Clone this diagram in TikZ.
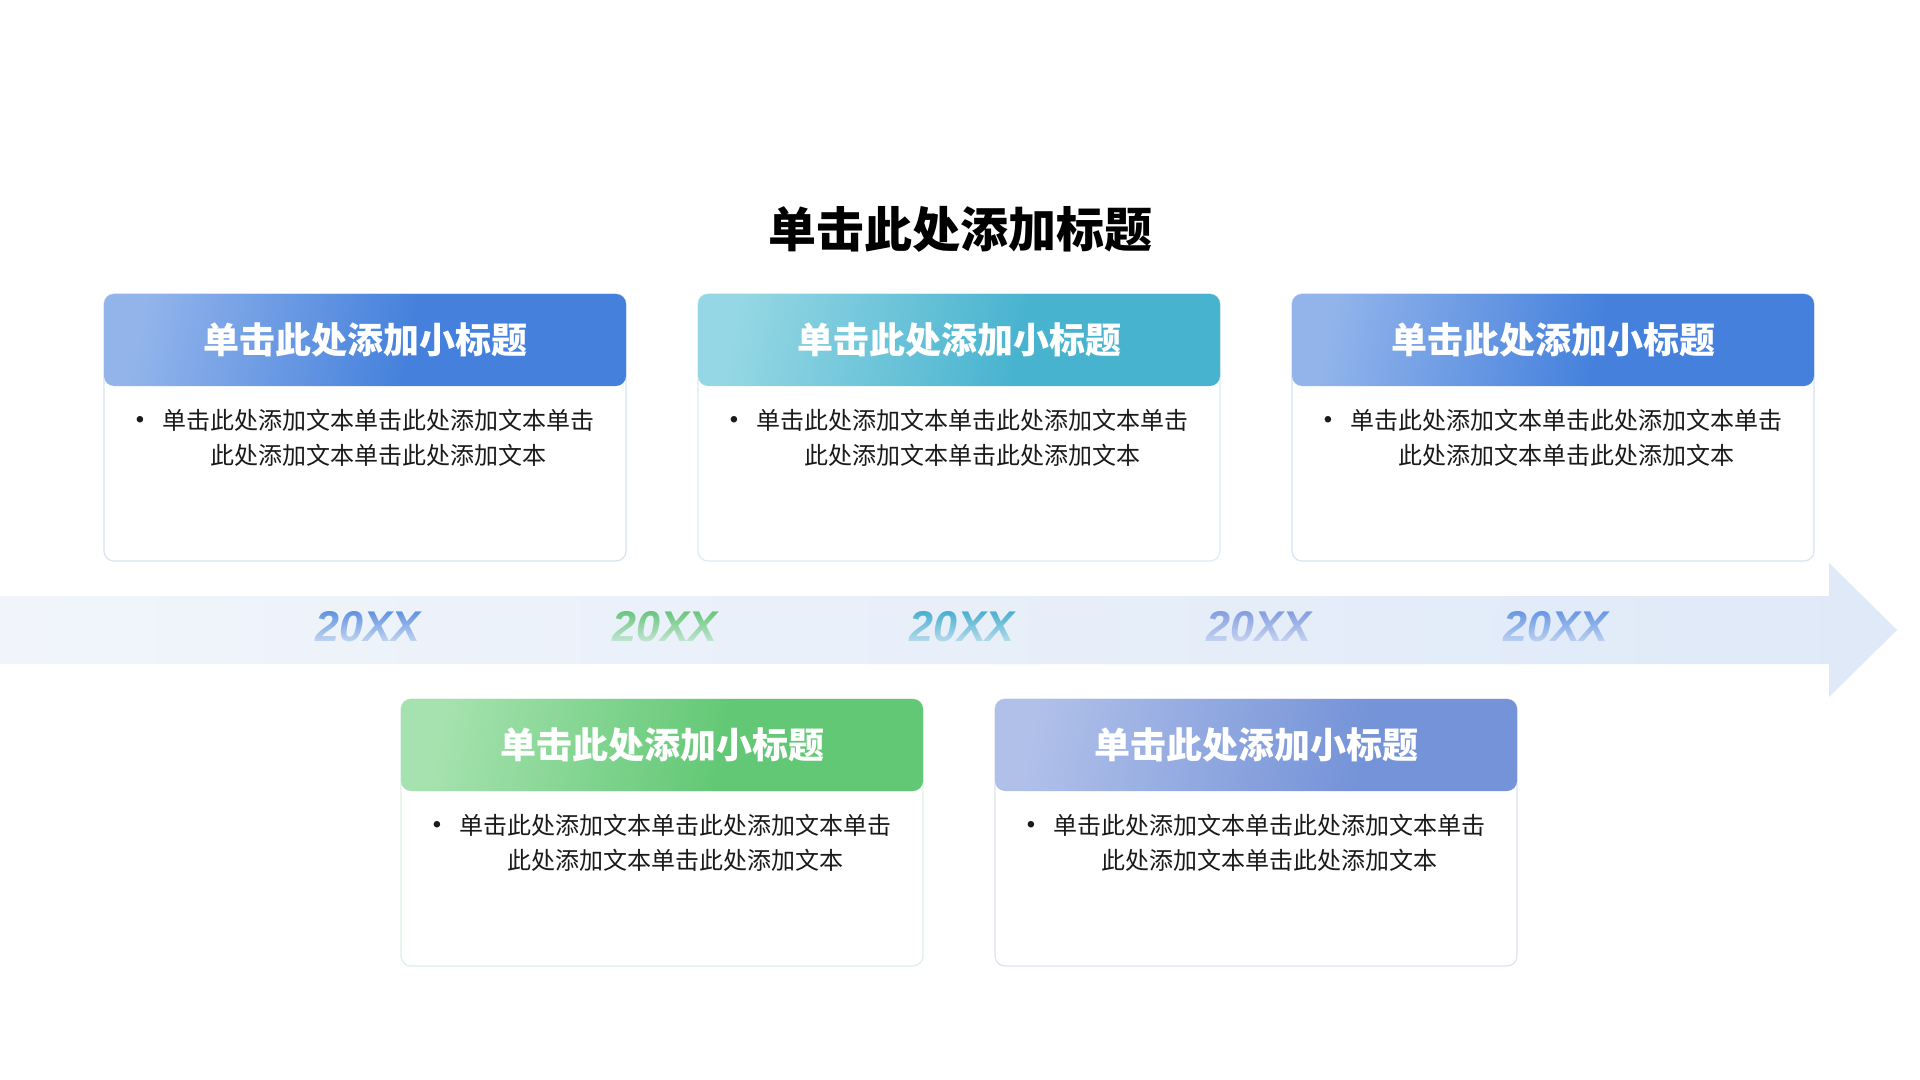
\documentclass[tikz,border=0pt]{standalone}
\usepackage{fontspec}
\newfontfamily\cjk{Noto Sans CJK SC}
\newfontfamily\yearfont{Liberation Sans}
\usetikzlibrary{fadings}
\definecolor{bluelt}{HTML}{92B4EB}
\definecolor{bluedk}{HTML}{4581DC}
\definecolor{teallt}{HTML}{95D7E4}
\definecolor{tealdk}{HTML}{48B3CF}
\definecolor{greenlt}{HTML}{A6E2AF}
\definecolor{greendk}{HTML}{62C875}
\definecolor{purplt}{HTML}{B0C0E9}
\definecolor{purpdk}{HTML}{7593D8}
\definecolor{bluebd}{HTML}{D9E3F3}
\definecolor{tealbd}{HTML}{D8EEF3}
\definecolor{greenbd}{HTML}{DDF1E0}
\definecolor{purpbd}{HTML}{DDE2F3}
\definecolor{arrowlt}{HTML}{F1F5FB}
\definecolor{arrowdk}{HTML}{DFE9F8}
\definecolor{yblue}{HTML}{5A8EE0}
\definecolor{ygreen}{HTML}{62C575}
\definecolor{yteal}{HTML}{40ADCE}
\definecolor{ypurp}{HTML}{7F9ADE}
\definecolor{yblue2}{HTML}{6293E2}
\definecolor{bodytext}{HTML}{1A1A1A}
\pgfdeclarehorizontalshading{shblue}{100bp}{color(0bp)=(bluelt); color(25bp)=(bluelt); color(55bp)=(bluedk); color(100bp)=(bluedk)}
\pgfdeclarehorizontalshading{shteal}{100bp}{color(0bp)=(teallt); color(25bp)=(teallt); color(57bp)=(tealdk); color(100bp)=(tealdk)}
\pgfdeclarehorizontalshading{shgreen}{100bp}{color(0bp)=(greenlt); color(25bp)=(greenlt); color(57bp)=(greendk); color(100bp)=(greendk)}
\pgfdeclarehorizontalshading{shpurp}{100bp}{color(0bp)=(purplt); color(25bp)=(purplt); color(62bp)=(purpdk); color(100bp)=(purpdk)}
\tikzfading[name=yover, top color=transparent!100, bottom color=transparent!22]
\tikzset{
  cardbox/.style={fill=white, draw=#1, line width=0.6pt, rounded corners=5pt,
    minimum width=261pt, minimum height=133.5pt, inner sep=0pt},
  hdrbox/.style={shade, shading=#1, shading angle=-12,
    rounded corners=5pt, minimum width=261pt, minimum height=46pt, inner sep=0pt,
    text=white, font=\cjk\bfseries\fontsize{18pt}{20pt}\selectfont},
  bodytxt/.style={text=bodytext, align=center, inner sep=0pt,
    font=\cjk\fontsize{12pt}{17.5pt}\selectfont},
  bulletmark/.style={text=bodytext, inner sep=0pt, font=\fontsize{12pt}{14pt}\selectfont},
  yearlbl/.style={inner sep=0pt, font=\yearfont\bfseries\itshape\fontsize{21.5pt}{23pt}\selectfont},
  yearveil/.style={fill=#1, path fading=yover},
  titletxt/.style={inner sep=0pt, text=black, font=\cjk\bfseries\fontsize{24pt}{28pt}\selectfont},
}
\begin{document}
\begin{tikzpicture}[x=0.5pt,y=-0.5pt]
\useasboundingbox (0,0) rectangle (1920,1080);
\fill[white] (0,0) rectangle (1920,1080);

% title
\node[titletxt] (title) at (960,229) {单击此处添加标题};

% timeline arrow
\shade[left color=arrowlt, right color=arrowdk]
  (0,596) -- (1829,596) -- (1829,563) -- (1897,630) -- (1829,697) -- (1829,664) -- (0,664) -- cycle;

% year labels (text, then a fading veil that lightens the lower part)
\node[yearlbl, text=yblue] (y1) at (368,627) {20XX};
\node[yearlbl, text=ygreen] (y2) at (665,627) {20XX};
\node[yearlbl, text=yteal] (y3) at (962,627) {20XX};
\node[yearlbl, text=ypurp] (y4) at (1259,627) {20XX};
\node[yearlbl, text=yblue2] (y5) at (1556,627) {20XX};
\fill[yearveil={arrowdk!19!arrowlt}] (306,609) rectangle (430,645);
\fill[yearveil={arrowdk!35!arrowlt}] (603,609) rectangle (727,645);
\fill[yearveil={arrowdk!51!arrowlt}] (900,609) rectangle (1024,645);
\fill[yearveil={arrowdk!66!arrowlt}] (1197,609) rectangle (1321,645);
\fill[yearveil={arrowdk!82!arrowlt}] (1494,609) rectangle (1618,645);

% ---- top cards
\node[cardbox=bluebd] (c1) at (365,427.5) {};
\node[hdrbox=shblue] (h1) at (365,340) {单击此处添加小标题};
\node[bulletmark] (b1) at (140,421) {\textbullet};
\node[bodytxt] (t1) at (378,438) {单击此处添加文本单击此处添加文本单击\\此处添加文本单击此处添加文本};

\node[cardbox=tealbd] (c2) at (959,427.5) {};
\node[hdrbox=shteal] (h2) at (959,340) {单击此处添加小标题};
\node[bulletmark] (b2) at (734,421) {\textbullet};
\node[bodytxt] (t2) at (972,438) {单击此处添加文本单击此处添加文本单击\\此处添加文本单击此处添加文本};

\node[cardbox=bluebd] (c3) at (1553,427.5) {};
\node[hdrbox=shblue] (h3) at (1553,340) {单击此处添加小标题};
\node[bulletmark] (b3) at (1328,421) {\textbullet};
\node[bodytxt] (t3) at (1566,438) {单击此处添加文本单击此处添加文本单击\\此处添加文本单击此处添加文本};

% ---- bottom cards
\node[cardbox=greenbd] (c4) at (662,832.5) {};
\node[hdrbox=shgreen] (h4) at (662,745) {单击此处添加小标题};
\node[bulletmark] (b4) at (437,826) {\textbullet};
\node[bodytxt] (t4) at (675,843) {单击此处添加文本单击此处添加文本单击\\此处添加文本单击此处添加文本};

\node[cardbox=purpbd] (c5) at (1256,832.5) {};
\node[hdrbox=shpurp] (h5) at (1256,745) {单击此处添加小标题};
\node[bulletmark] (b5) at (1031,826) {\textbullet};
\node[bodytxt] (t5) at (1269,843) {单击此处添加文本单击此处添加文本单击\\此处添加文本单击此处添加文本};
\end{tikzpicture}
\end{document}
